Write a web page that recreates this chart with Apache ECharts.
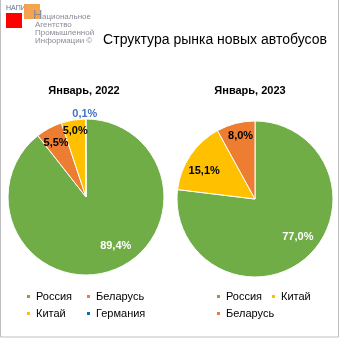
<!DOCTYPE html>
<html><head><meta charset="utf-8">
<script src="https://cdn.jsdelivr.net/npm/echarts@6/dist/echarts.min.js"></script>
<style>html,body{margin:0;padding:0;background:#fff}#c{width:340px;height:340px}</style>
</head><body><div id="c"></div>
<script>
const title = 'Структура рынка новых автобусов';
const pie1Title = 'Январь, 2022';
const pie2Title = 'Январь, 2023';
const pie1Names = ['Россия', 'Беларусь', 'Китай', 'Германия'];
const pie1Values = [89.4, 5.5, 5.0, 0.1];
const pie2Names = ['Россия', 'Китай', 'Беларусь'];
const pie2Values = [77.0, 15.1, 8.0];

const colorMap = {'Россия':'#70AD47','Беларусь':'#ED7D31','Китай':'#FFC000','Германия':'#0070C0'};
const FONT = '"Liberation Sans", Arial, sans-serif';
// label placement tweaks (style only)
const off1 = [[16,9],[-10,-17],[-4,-25],[-1,-41]];
const off2 = [[15,7],[-16,-4],[-4,-22]];
const lblColor1 = ['#fff','#000','#000','#4472C4'];
const lblColor2 = ['#fff','#000','#000'];
// legend item slots (style only): [left, top]
const legPos1 = [[25,291],[85,291],[25,308],[85,308]];
const legPos2 = [[215,291],[270,291],[215,308]];

function mk(names, values, offs, cols) {
  return names.map((n,i)=>({
    name:n, value:values[i],
    itemStyle:{color:colorMap[n]},
    label:{offset:offs[i], color:cols[i]}
  }));
}
const fmt = p => p.value.toFixed(1).replace('.', ',') + '%';
const baseSeries = {
  type:'pie', radius:78, startAngle:90, clockwise:true, animation:false,
  itemStyle:{borderColor:'#fff', borderWidth:1},
  label:{show:true, position:'inside', formatter:fmt, fontFamily:FONT, fontSize:11, fontWeight:'bold'},
  labelLine:{show:false}, emphasis:{disabled:true}
};
const legendBase = {
  orient:'horizontal', itemWidth:5, itemHeight:5, icon:'rect', itemGap:3, padding:0,
  textStyle:{fontFamily:FONT, fontSize:11, color:'#000'}, selectedMode:false
};
const legends = [];
pie1Names.forEach((n,i)=>legends.push(Object.assign({}, legendBase, {left:legPos1[i][0], top:legPos1[i][1], data:[n]})));
pie2Names.forEach((n,i)=>legends.push(Object.assign({}, legendBase, {left:legPos2[i][0], top:legPos2[i][1], data:[n]})));

const chart = echarts.init(document.getElementById('c'));
chart.setOption({
  backgroundColor:'#fff',
  title:[
    {text:title, left:215, top:33, padding:0, textAlign:'center', textStyle:{fontFamily:FONT, fontSize:14, fontWeight:'normal', color:'#000'}},
    {text:pie1Title, left:84, top:85, padding:0, textAlign:'center', textStyle:{fontFamily:FONT, fontSize:11, fontWeight:'bold', color:'#000'}},
    {text:pie2Title, left:250, top:85, padding:0, textAlign:'center', textStyle:{fontFamily:FONT, fontSize:11, fontWeight:'bold', color:'#000'}}
  ],
  legend:legends,
  graphic:[
    {type:'rect', shape:{x:0.5, y:-2, width:338, height:339}, style:{fill:'none', stroke:'#BFBFBF', lineWidth:1}, silent:true},
    {type:'text', left:6, top:5, style:{text:'НАПИ', fontFamily:FONT, fontSize:7, fill:'#5A6E8C'}},
    {type:'rect', shape:{x:6, y:13, width:16, height:15}, style:{fill:'#FF0000'}},
    {type:'rect', shape:{x:24, y:4, width:16, height:15}, style:{fill:'#F39A3C', opacity:0.9}},
    {type:'text', x:33, y:9, style:{text:'Н', fontFamily:FONT, fontSize:13, fill:'#8A8A96'}},
    {type:'text', x:42, y:13, style:{text:'ациональное', fontFamily:FONT, fontSize:8, fill:'#8A8A96'}},
    {type:'text', x:35, y:21, style:{text:'Агентство', fontFamily:FONT, fontSize:8, fill:'#8A8A96'}},
    {type:'text', x:35, y:29, style:{text:'Промышленной', fontFamily:FONT, fontSize:8, fill:'#8A8A96'}},
    {type:'text', x:35, y:37, style:{text:'Информации ©', fontFamily:FONT, fontSize:8, fill:'#8A8A96'}}
  ],
  series:[
    Object.assign({}, baseSeries, {name:'2022', center:[86,197], data:mk(pie1Names, pie1Values, off1, lblColor1)}),
    Object.assign({}, baseSeries, {name:'2023', center:[255,199], data:mk(pie2Names, pie2Values, off2, lblColor2)})
  ]
});
</script></body></html>
